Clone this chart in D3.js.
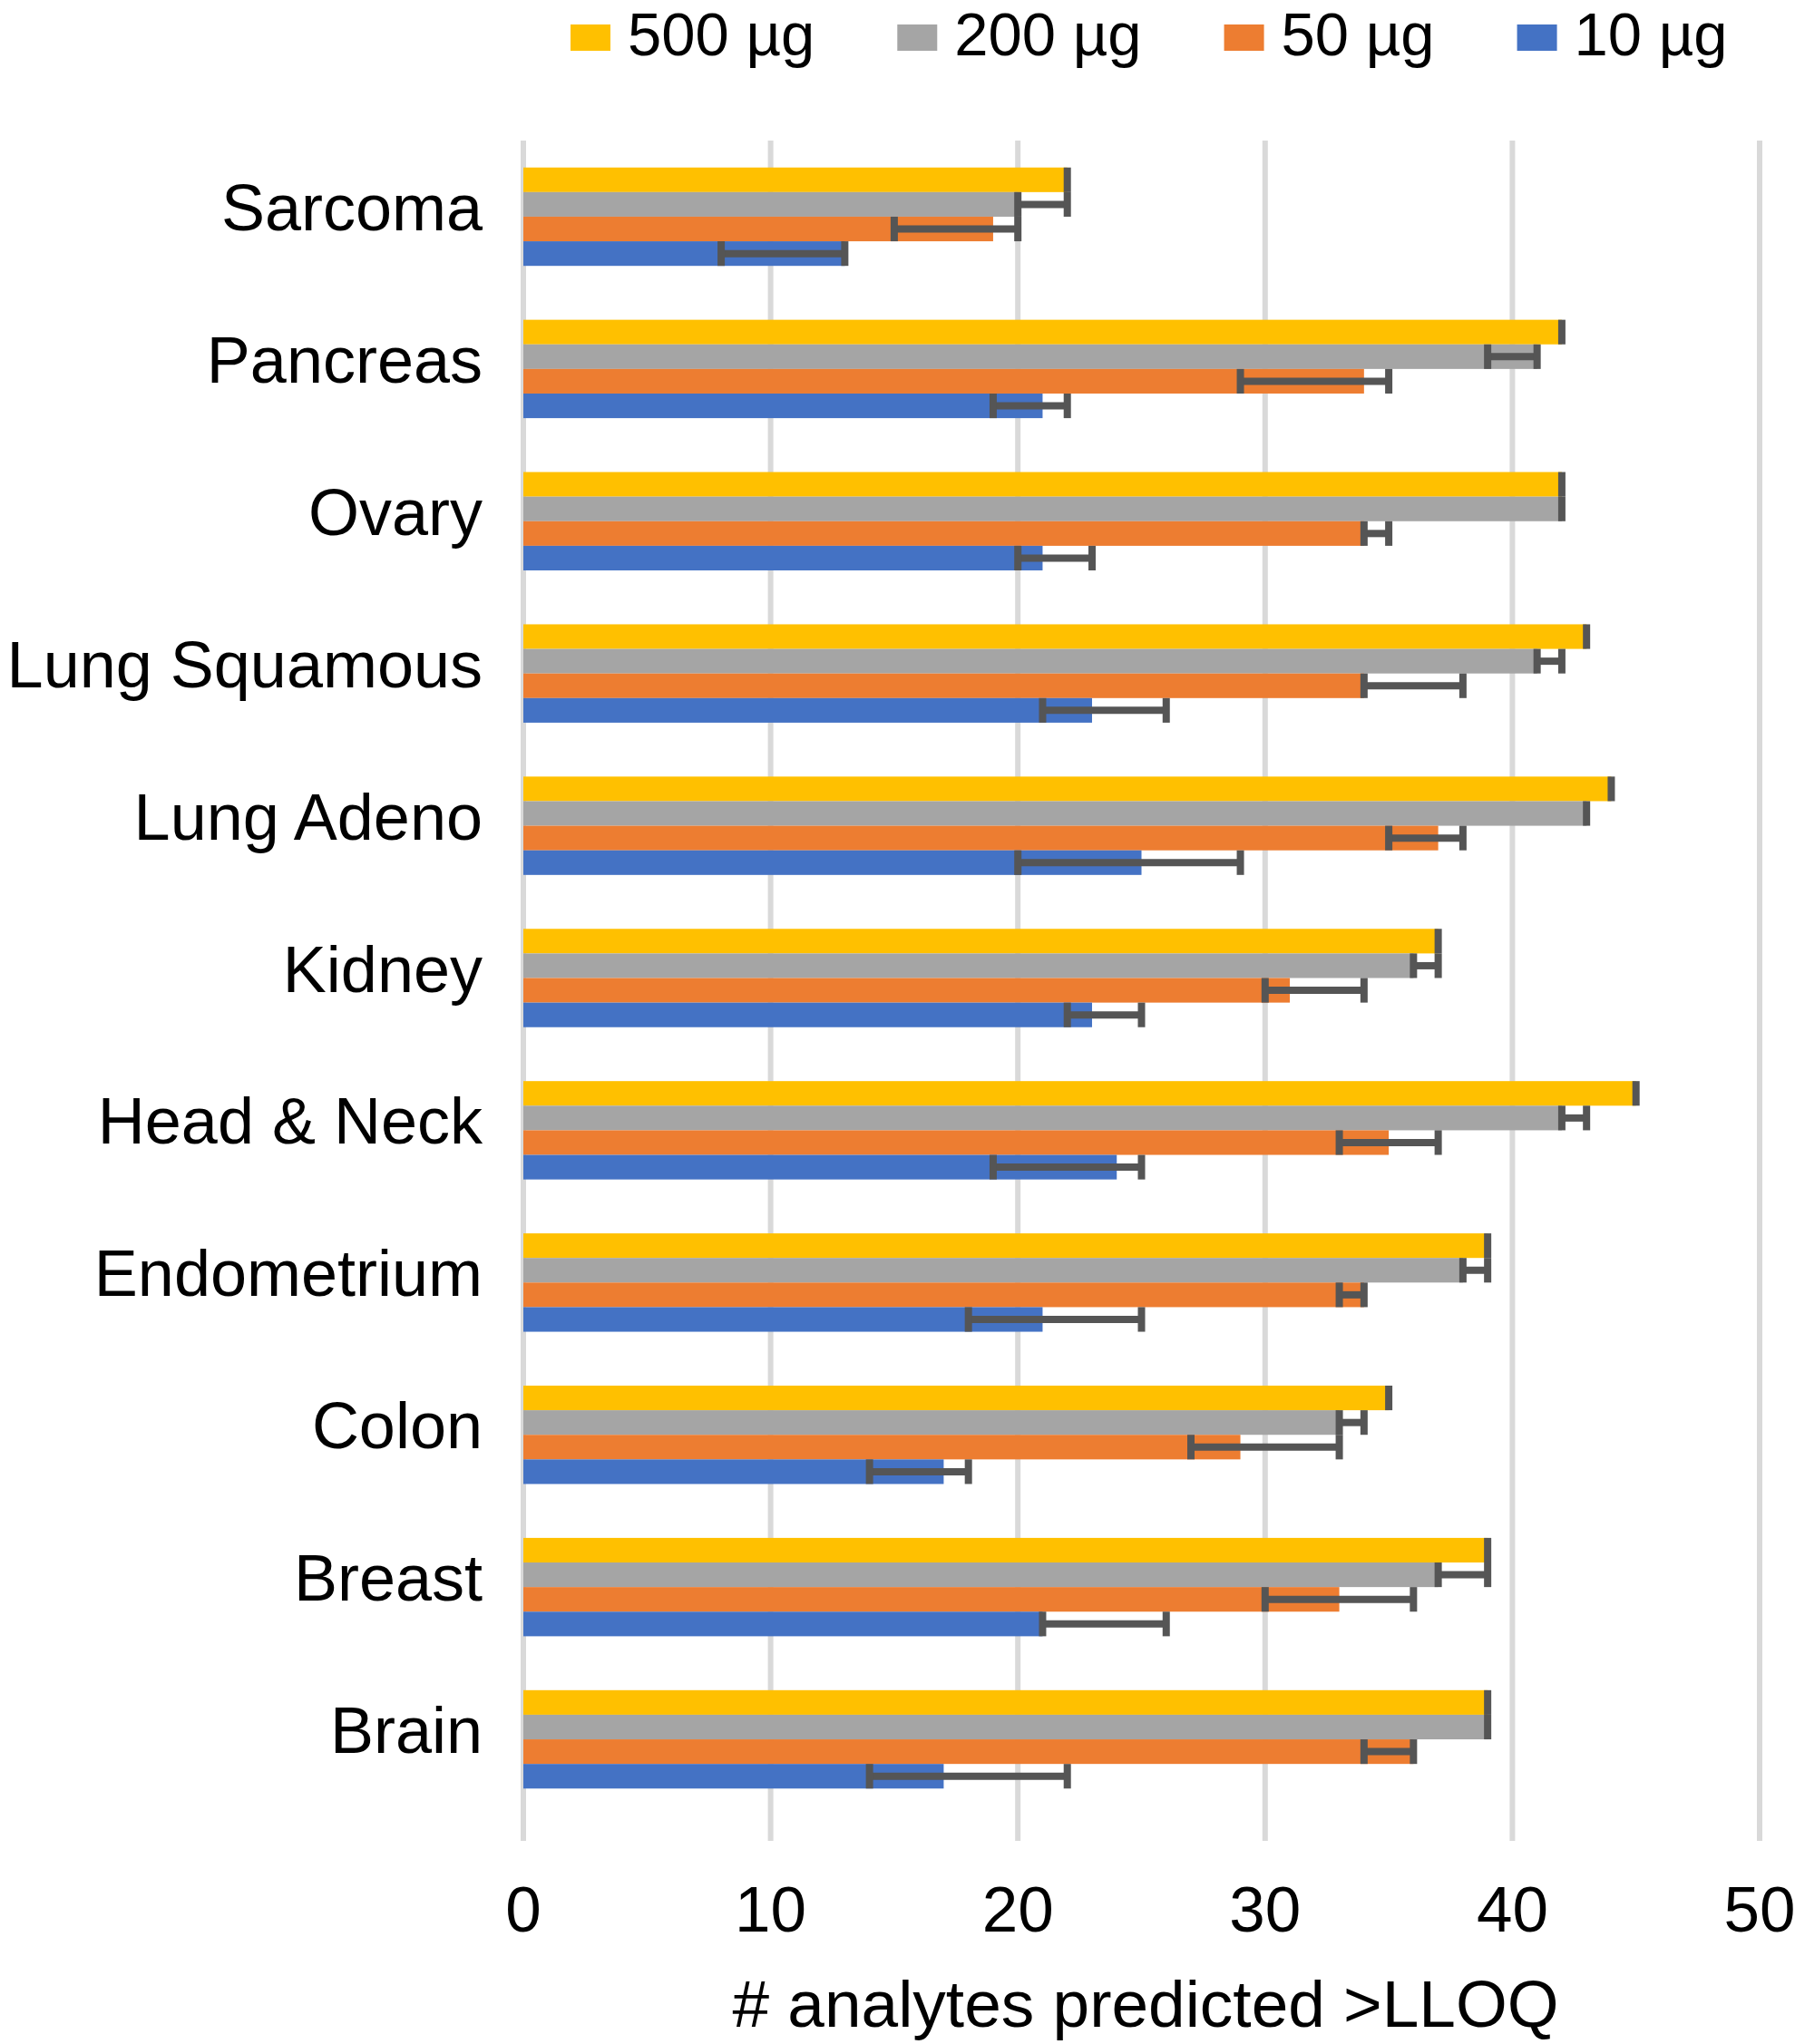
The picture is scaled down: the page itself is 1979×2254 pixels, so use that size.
<!DOCTYPE html>
<html>
<head>
<meta charset="utf-8">
<script src="https://cdn.jsdelivr.net/npm/d3@7"></script>
<style>
  html, body { margin: 0; padding: 0; background: #ffffff; }
  svg { display: block; }
  text { font-family: "Liberation Sans", Arial, Helvetica, sans-serif; fill: #000; }
</style>
</head>
<body>
<svg id="chart" width="1979" height="2254"></svg>
<script>
// ---------------- DATA ----------------
const categories = ["Sarcoma", "Pancreas", "Ovary", "Lung Squamous", "Lung Adeno", "Kidney",
                    "Head & Neck", "Endometrium", "Colon", "Breast", "Brain"];
const seriesNames = ["500 µg", "200 µg", "50 µg", "10 µg"];
const seriesColors = ["#FFC000", "#A5A5A5", "#ED7D31", "#4472C4"];

const v500 = [22, 42, 42, 43, 44, 37, 45, 39, 35, 39, 39];
const lo500 = [22, 42, 42, 43, 44, 37, 45, 39, 35, 39, 39];
const hi500 = [22, 42, 42, 43, 44, 37, 45, 39, 35, 39, 39];

const v200 = [20, 41, 42, 41, 43, 36, 42, 38, 33, 37, 39];
const lo200 = [20, 39, 42, 41, 43, 36, 42, 38, 33, 37, 39];
const hi200 = [22, 41, 42, 42, 43, 37, 43, 39, 34, 39, 39];

const v50 = [19, 34, 34, 34, 37, 31, 35, 34, 29, 33, 36];
const lo50 = [15, 29, 34, 34, 35, 30, 33, 33, 27, 30, 34];
const hi50 = [20, 35, 35, 38, 38, 34, 37, 34, 33, 36, 36];

const v10 = [13, 21, 21, 23, 25, 23, 24, 21, 17, 21, 17];
const lo10 = [8, 19, 20, 21, 20, 22, 19, 18, 14, 21, 14];
const hi10 = [13, 22, 23, 26, 29, 25, 25, 25, 18, 26, 22];

const xTicks = [0, 10, 20, 30, 40, 50];
const xTitle = "# analytes predicted >LLOQ";

// table built from the arrays
const values = [v500, v200, v50, v10];
const lows = [lo500, lo200, lo50, lo10];
const highs = [hi500, hi200, hi50, hi10];
const rows = [];
seriesNames.forEach((s, si) => {
  categories.forEach((c, ci) => {
    rows.push({ series: s, si: si, cat: c, v: values[si][ci], lo: lows[si][ci], hi: highs[si][ci] });
  });
});

// ---------------- LAYOUT ----------------
const svg = d3.select("#chart");
svg.append("rect").attr("width", 1979).attr("height", 2254).attr("fill", "#fff");

const plotTop = 155, plotBottom = 2030;
const x = d3.scaleLinear().domain([0, 50]).range([577, 1940]);
const y = d3.scaleBand().domain(categories).range([155, 2002]).paddingInner(0.354).paddingOuter(0.177);
const ys = d3.scaleBand().domain(seriesNames).range([0, y.bandwidth()]);

const FONT = 72;
const errColor = "#555555";
const errW = 8;

// gridlines
svg.append("g").selectAll("line").data(xTicks).join("line")
  .attr("x1", d => x(d)).attr("x2", d => x(d))
  .attr("y1", plotTop).attr("y2", plotBottom)
  .attr("stroke", "#D9D9D9").attr("stroke-width", 6);

// bars
svg.append("g").selectAll("rect").data(rows).join("rect")
  .attr("x", x(0))
  .attr("y", d => y(d.cat) + ys(d.series))
  .attr("width", d => x(d.v) - x(0))
  .attr("height", ys.bandwidth())
  .attr("fill", d => seriesColors[d.si]);

// error bars
const eg = svg.append("g");
eg.selectAll("line.h").data(rows.filter(d => d.hi > d.lo)).join("line")
  .attr("class", "h")
  .attr("x1", d => x(d.lo)).attr("x2", d => x(d.hi))
  .attr("y1", d => y(d.cat) + ys(d.series) + ys.bandwidth() / 2)
  .attr("y2", d => y(d.cat) + ys(d.series) + ys.bandwidth() / 2)
  .attr("stroke", errColor).attr("stroke-width", errW);
const caps = [];
rows.forEach(d => {
  caps.push({ d: d, val: d.lo });
  if (d.hi > d.lo) caps.push({ d: d, val: d.hi });
});
eg.selectAll("line.c").data(caps).join("line")
  .attr("class", "c")
  .attr("x1", c => x(c.val)).attr("x2", c => x(c.val))
  .attr("y1", c => y(c.d.cat) + ys(c.d.series))
  .attr("y2", c => y(c.d.cat) + ys(c.d.series) + ys.bandwidth())
  .attr("stroke", errColor).attr("stroke-width", errW);

// category labels
svg.append("g").selectAll("text").data(categories).join("text")
  .attr("x", 532)
  .attr("y", d => y(d) + y.bandwidth() / 2 + 15)
  .attr("text-anchor", "end")
  .attr("font-size", FONT)
  .text(d => d);

// x tick labels
svg.append("g").selectAll("text").data(xTicks).join("text")
  .attr("x", d => x(d))
  .attr("y", 2130)
  .attr("text-anchor", "middle")
  .attr("font-size", 71)
  .text(d => d);

// x axis title
svg.append("text")
  .attr("x", 1263).attr("y", 2235)
  .attr("text-anchor", "middle")
  .attr("font-size", 73)
  .text(xTitle);

// legend
const LFONT = 67;
const lg = svg.append("g");
let lx = 629;
seriesNames.forEach((s, i) => {
  lg.append("rect").attr("x", lx).attr("y", 27).attr("width", 44).attr("height", 29)
    .attr("fill", seriesColors[i]);
  const t = lg.append("text").attr("x", lx + 63).attr("y", 61)
    .attr("font-size", LFONT).text(s);
  const w = t.node().getComputedTextLength();
  lx = lx + 63 + w + 91;
});
</script>
</body>
</html>
